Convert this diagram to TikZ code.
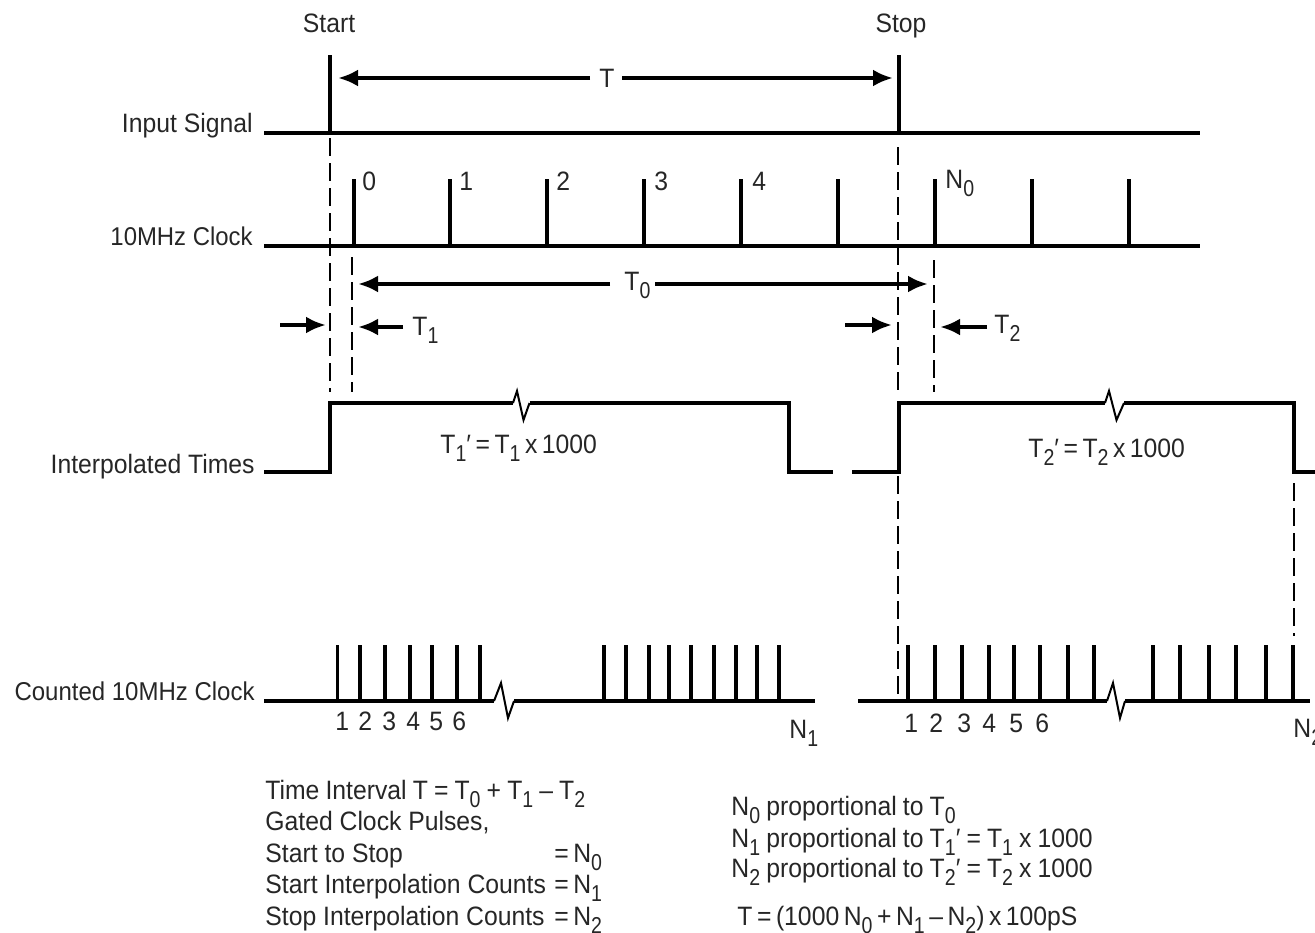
\documentclass[tikz,border=0pt]{standalone}
\usepackage{fontspec}
\setmainfont[FakeStretch=0.93]{Liberation Sans}
\newfontfamily\subfont[FakeStretch=0.85]{Liberation Sans}
\usepackage{tikz}
\usetikzlibrary{arrows.meta}
\newcommand{\low}[1]{\raisebox{-0.33em}{\subfont\fontsize{11.5}{11.5}\selectfont #1}}
\newcommand{\T}[1]{T\low{#1}}
\newcommand{\N}[1]{N\low{#1}}
\newcommand{\Tp}[1]{T\low{#1}\char"2032\relax}

\begin{document}
\begin{tikzpicture}[
    x=0.5pt, y=-0.5pt,
    signal/.style={line width=2pt},
    pulse/.style={line width=1.7pt},
    guide/.style={line width=0.9pt, dash pattern=on 9pt off 3.5pt},
    dim/.style={line width=2pt, -{Latex[length=10pt,width=8.5pt]}},
    zig/.style={line width=1pt},
    txt/.style={anchor=base west, inner sep=0pt, font=\fontsize{13.3}{13.3}\selectfont, text=black!85},
    formula/.style={txt, execute at begin node={\spaceskip=0.17em\relax}},
    note/.style={txt, execute at begin node={\spaceskip=0.23em\relax}},
    rowlabel/.style={txt, anchor=base east},
    midlabel/.style={txt, anchor=base}
]
    \useasboundingbox (0,0) rectangle (1315,932);
    \node[midlabel] (start) at (329,32) {Start};
    \node[midlabel] (stop) at (901,32) {Stop};
    \node[rowlabel] (input) at (253,132) {Input Signal};
    \node[rowlabel, font=\fontsize{12.85}{12.85}\selectfont] (clock) at (253,245) {10MHz Clock};
    \node[rowlabel] (interp) at (255,473) {Interpolated Times};
    \node[rowlabel, font=\fontsize{12.9}{12.9}\selectfont] (counted) at (255,700) {Counted 10MHz Clock};
    % input signal
    \draw[signal] (264,133) -- (1200,133);
    \draw[pulse] (330,55) -- (330,133);
    \draw[pulse] (899,55) -- (899,133);
    \node[txt, anchor=center] (tlabel) at (607,78) {T};
    \coordinate (tleft) at (338,78);
    \coordinate (tright) at (893,78);
    \draw[dim] (590,78) -- (tleft);
    \draw[dim] (622,78) -- (tright);
    % clock
    \draw[signal] (264,246) -- (1200,246);
    \foreach \px in {354,450,547,644,741,838,935,1032,1129}
        \draw[pulse] (\px,179) -- (\px,246);
    \foreach \px/\num in {362/0,459/1,556/2,654/3,752/4}
        \node[txt] (tick\num) at (\px,190) {\num};
    \node[txt] (nzero) at (945,188) {\N{0}};
    % dashed guides
    \draw[guide] (330,138) -- (330,392);
    \draw[guide] (352,257) -- (352,392);
    \draw[guide] (898,147) -- (898,392);
    \draw[guide] (934,260) -- (934,392);
    \draw[guide] (898,476) -- (898,695);
    \draw[guide] (1294,483) -- (1294,636);
    % widths
    \node[txt] (tzero) at (624,290) {\T{0}};
    \draw[dim] (610,284) -- (358,284);
    \draw[dim] (655,284) -- (928,284);
    \draw[dim] (280,325) -- (326,325);
    \draw[dim] (403,327) -- (358,327);
    \node[txt] (tone) at (412,335) {\T{1}};
    \draw[dim] (845,325) -- (892,325);
    \draw[dim] (987,327) -- (940,327);
    \node[txt] (ttwo) at (994,333) {\T{2}};
    % interpolated times
    \draw[signal] (264,472) -- (330,472) -- (330,403) -- (513,403);
    \draw[zig] (513,403) -- (517,391) -- (523.5,420) -- (529.5,403);
    \draw[signal] (529.5,403) -- (789,403) -- (789,472) -- (833,472);
    \draw[signal] (852,472) -- (899,472) -- (899,403) -- (1105,403);
    \draw[zig] (1105,403) -- (1109,391) -- (1116.5,420) -- (1124,403);
    \draw[signal] (1124,403) -- (1294,403) -- (1294,472) -- (1315,472);
    \node[formula] (tonep) at (440,453) {\Tp{1} = \T{1} x 1000};
    \node[formula] (ttwop) at (1028,457) {\Tp{2} = \T{2} x 1000};
    % counted clock
    \draw[signal] (264,701) -- (494,701);
    \draw[zig] (494,701) -- (501,683) -- (508,718) -- (514,701);
    \draw[signal] (514,701) -- (815,701);
    \draw[signal] (858,701) -- (1107,701);
    \draw[zig] (1107,701) -- (1113,683) -- (1120,718) -- (1125,701);
    \draw[signal] (1125,701) -- (1310,701);
    \foreach \px in {337.5,360,385,410,432,457,480,604,626,649,669,691,714,736,757,779,
                     908,935,962,989,1014,1040,1068,1094,1153,1180,1209,1236,1266,1293}
        \draw[pulse] (\px,645) -- (\px,701);
    \foreach \px/\num in {335/1,358/2,382/3,406/4,429/5,452/6}
        \node[txt] (starta\num) at (\px,730) {\num};
    \foreach \px/\num in {904/1,929/2,957/3,982/4,1009/5,1035/6}
        \node[txt] (stopa\num) at (\px,732) {\num};
    \node[txt] (none) at (789,738) {\N{1}};
    \node[txt] (ntwo) at (1293,737) {\N{2}};
    % notes
    \node[note] (note1) at (265,799) {Time Interval T = \T{0} + \T{1} -- \T{2}};
    \node[txt] (note2) at (265,830) {Gated Clock Pulses,};
    \node[txt] (note3) at (265,862) {Start to Stop};
    \node[formula] (note3b) at (554,862) {= \N{0}};
    \node[txt] (note4) at (265,893) {Start Interpolation Counts};
    \node[formula] (note4b) at (554,893) {= \N{1}};
    \node[txt] (note5) at (265,925) {Stop Interpolation Counts};
    \node[formula] (note5b) at (554,925) {= \N{2}};
    \node[note] (note6) at (731,815) {\N{0} proportional to \T{0}};
    \node[note] (note7) at (731,847) {\N{1} proportional to \Tp{1} = \T{1} x 1000};
    \node[note] (note8) at (731,877) {\N{2} proportional to \Tp{2} = \T{2} x 1000};
    \node[formula] (note9) at (737,925) {T = (1000 \N{0} + \N{1} -- \N{2}) x 100pS};
\end{tikzpicture}
\end{document}
